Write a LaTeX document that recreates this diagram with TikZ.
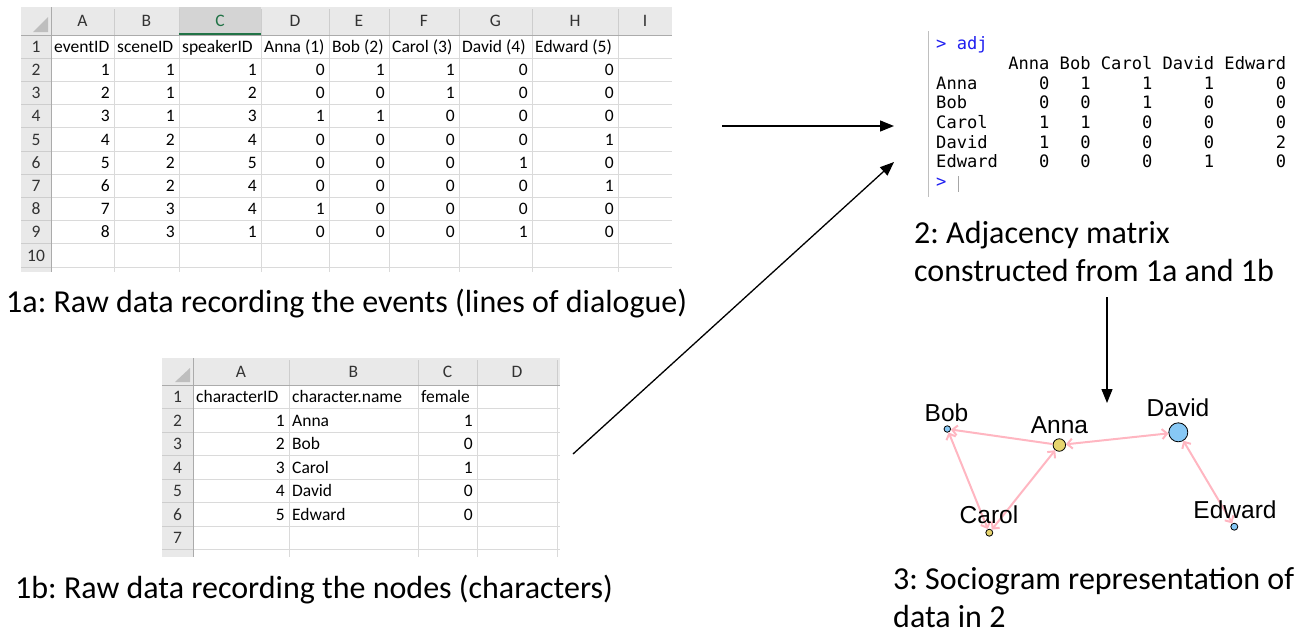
\documentclass[tikz,border=0pt]{standalone}
\usepackage{fontspec}
\setmainfont{Carlito}
\newfontfamily\arialf{Liberation Sans}
\newfontfamily\monof{DejaVu Sans Mono}
\usetikzlibrary{arrows.meta}
\definecolor{hdrgray}{RGB}{233,233,233}
\definecolor{selgray}{RGB}{212,212,212}
\definecolor{gridc}{RGB}{218,218,218}
\definecolor{hdrlinec}{RGB}{205,205,205}
\definecolor{hdrborderc}{RGB}{171,171,171}
\definecolor{xlgreen}{RGB}{33,115,70}
\definecolor{tric}{RGB}{190,190,190}
\definecolor{rblue}{RGB}{30,30,240}
\definecolor{edgepink}{RGB}{255,182,193}
\definecolor{vblue}{RGB}{135,200,245}
\definecolor{vyellow}{RGB}{230,212,110}
\newcommand\sheetfont{\fontsize{17.5}{20}\selectfont}
\newcommand\capfont{\frenchspacing\fontsize{32}{38}\selectfont}
\newcommand\conf{\monof\fontsize{17.1}{20}\selectfont}
\newcommand\labf{\arialf\fontsize{24.5}{28}\selectfont}
\begin{document}
\begin{tikzpicture}[x=1pt,y=-1pt,
  gridline/.style={draw=gridc,line width=0.8pt},
  hdrline/.style={draw=hdrlinec,line width=0.8pt},
  hdrborder/.style={draw=hdrborderc,line width=0.9pt},
  hdrtxt/.style={font=\sheetfont,text=black!80,inner sep=0pt,anchor=base},
  cellL/.style={font=\sheetfont,inner sep=0pt,anchor=base west},
  cellR/.style={font=\sheetfont,inner sep=0pt,anchor=base east},
  capt/.style={font=\capfont,inner sep=0pt,anchor=base west},
  conline/.style={font=\conf,inner sep=0pt,anchor=base west},
  flow/.style={draw=black,line width=1.3pt,-{Triangle[length=14pt,width=11pt]}},
  vtx/.style={circle,draw=black,line width=0.8pt,inner sep=0pt},
  vlab/.style={font=\labf,inner sep=0pt,anchor=base},
  edge/.style={draw=edgepink,line width=2pt,>={Straight Barb[length=5pt,width=10pt]}}
]
\useasboundingbox (0,0) rectangle (1311,633);

% ================= Spreadsheet 1a =================
\fill[white] (21,7) rectangle (672,272);
\fill[hdrgray] (21,7) rectangle (672,35);
\fill[hdrgray] (21,35) rectangle (51,272);
\fill[selgray] (179,7) rectangle (261,35);
\foreach \y in {58.2,81.4,104.6,127.8,151,174.2,197.4,220.6,243.8,267} {
  \draw[gridline] (51,\y) -- (672,\y);
  \draw[hdrline] (21,\y) -- (51,\y);
}
\foreach \x in {114,179,261,329,389,459,532,618} {
  \draw[gridline] (\x,35) -- (\x,272);
  \draw[hdrline] (\x,9) -- (\x,35);
}
\draw[hdrborder] (21,35) -- (672,35);
\draw[hdrborder] (51,7) -- (51,272);
\draw[xlgreen,line width=2pt] (179,34) -- (261,34);
\fill[tric] (48,17) -- (48,32) -- (33,32) -- cycle;
% column letters
\foreach \l/\cx [count=\i] in {A/82.5,B/146.5,D/295,E/359,F/424,G/495.5,H/575,I/645} {
  \node[hdrtxt] (ha-\i) at (\cx,26.7) {\l};
}
\node[hdrtxt,text=xlgreen] (ha-C) at (220,26.7) {C};
% row numbers
\foreach \r in {1,...,10} {
  \node[hdrtxt] (ra-\r) at (36,{35+23.2*(\r-1)+17.3}) {\r};
}
% header cells
\foreach \t/\xl [count=\i] in {eventID/54,sceneID/117,speakerID/182,Anna (1)/264,Bob (2)/332,Carol (3)/392,David (4)/462,Edward (5)/535} {
  \node[cellL] (ta-\i) at (\xl,52.3) {\t};
}
% data
\foreach \xr/\col [count=\c] in {
  114/{1,2,3,4,5,6,7,8},
  179/{1,1,1,2,2,2,3,3},
  261/{1,2,3,4,5,4,4,1},
  329/{0,0,1,0,0,0,1,0},
  389/{1,0,1,0,0,0,0,0},
  459/{1,1,0,0,0,0,0,0},
  532/{0,0,0,0,1,0,0,1},
  618/{0,0,0,1,0,1,0,0}} {
  \foreach \v [count=\r from 2] in \col {
    \node[cellR] (da-\r-\c) at ({\xr-4},{35+23.2*(\r-1)+17.3}) {\v};
  }
}

% ================= Spreadsheet 1b =================
\fill[white] (162,358) rectangle (560,557);
\fill[hdrgray] (162,358) rectangle (560,385);
\fill[hdrgray] (162,385) rectangle (193,557);
\foreach \y in {408.5,432,455.5,479,502.5,526,549.5} {
  \draw[gridline] (193,\y) -- (560,\y);
  \draw[hdrline] (162,\y) -- (193,\y);
}
\foreach \x in {289,418,477,557} {
  \draw[gridline] (\x,385) -- (\x,557);
  \draw[hdrline] (\x,360) -- (\x,385);
}
\draw[hdrborder] (162,385) -- (560,385);
\draw[hdrborder] (193,358) -- (193,557);
\fill[tric] (190,368) -- (190,382) -- (175,382) -- cycle;
\foreach \l/\cx [count=\i] in {A/241,B/353.5,C/447.5,D/517} {
  \node[hdrtxt] (hb-\i) at (\cx,377.2) {\l};
}
\foreach \r in {1,...,7} {
  \node[hdrtxt] (rb-\r) at (177.5,{385+23.5*(\r-1)+17.5}) {\r};
}
\node[cellL] (tb-1) at (196,402.5) {characterID};
\node[cellL] (tb-2) at (292,402.5) {character.name};
\node[cellL] (tb-3) at (421,402.5) {female};
\foreach \id/\nm/\fe [count=\i from 2] in {1/Anna/1,2/Bob/0,3/Carol/1,4/David/0,5/Edward/0} {
  \node[cellR] (db-\i-1) at (285,{385+23.5*(\i-1)+17.5}) {\id};
  \node[cellL] (db-\i-2) at (292,{385+23.5*(\i-1)+17.5}) {\nm};
  \node[cellR] (db-\i-3) at (473,{385+23.5*(\i-1)+17.5}) {\fe};
}

% ================= R console =================
\draw[draw=black!25,line width=1pt] (928,31) -- (928,197);
\node[conline,text=rblue] (c0) at (936,49.5) {>~adj};
\node[conline] (c1) at (936,69.3) {~~~~~~~Anna~Bob~Carol~David~Edward};
\node[conline] (c2) at (936,89.0) {Anna~~~~~~0~~~1~~~~~1~~~~~1~~~~~~0};
\node[conline] (c3) at (936,108.7) {Bob~~~~~~~0~~~0~~~~~1~~~~~0~~~~~~0};
\node[conline] (c4) at (936,128.4) {Carol~~~~~1~~~1~~~~~0~~~~~0~~~~~~0};
\node[conline] (c5) at (936,148.1) {David~~~~~1~~~0~~~~~0~~~~~0~~~~~~2};
\node[conline] (c6) at (936,167.8) {Edward~~~~0~~~0~~~~~0~~~~~1~~~~~~0};
\node[conline,text=rblue] (c7) at (936,187.5) {>};
\draw[draw=black!35,line width=1pt] (958,176) -- (958,192);

% ================= Captions =================
\node[capt] (cap1a) at (6,312.3) {1a: Raw data recording the events (lines of dialogue)};
\node[capt] (cap1b) at (15,598.5) {1b: Raw data recording the nodes (characters)};
\node[capt] (cap2a) at (914,243) {2: Adjacency matrix};
\node[capt] (cap2b) at (914,281) {constructed from 1a and 1b};
\node[capt] (cap3a) at (893,589.5) {3: Sociogram representation of};
\node[capt] (cap3b) at (893,627) {data in 2};

% ================= Flow arrows =================
\coordinate (fa-s) at (722,126);
\coordinate (fa-e) at (894,126);
\coordinate (fb-s) at (573,454);
\coordinate (fb-e) at (894,162);
\coordinate (fc-s) at (1107,297);
\coordinate (fc-e) at (1107,403);
\draw[flow] (fa-s) -- (fa-e);
\draw[flow] (fb-s) -- (fb-e);
\draw[flow] (fc-s) -- (fc-e);

% ================= Sociogram =================
\node[vtx,fill=vblue,minimum size=6.5pt] (bob) at (947.3,429) {};
\node[vtx,fill=vyellow,minimum size=12.5pt] (anna) at (1059.3,445) {};
\node[vtx,fill=vblue,minimum size=19pt] (david) at (1178.3,432.3) {};
\node[vtx,fill=vyellow,minimum size=7pt] (carol) at (989.3,532.7) {};
\node[vtx,fill=vblue,minimum size=7pt] (edward) at (1234.3,526.7) {};
\draw[edge,->] (anna) -- (bob);
\draw[edge,<->] (anna) -- (david);
\draw[edge,<->] (carol) -- (anna);
\draw[edge,<->] (carol) -- (bob);
\draw[edge,<->] (david) -- (edward);
\node[vlab] (lbob) at (946.5,421) {Bob};
\node[vlab] (lanna) at (1059.5,433) {Anna};
\node[vlab] (ldavid) at (1178,416.5) {David};
\node[vlab] (lcarol) at (989,523) {Carol};
\node[vlab] (ledward) at (1235,518) {Edward};
\end{tikzpicture}
\end{document}
